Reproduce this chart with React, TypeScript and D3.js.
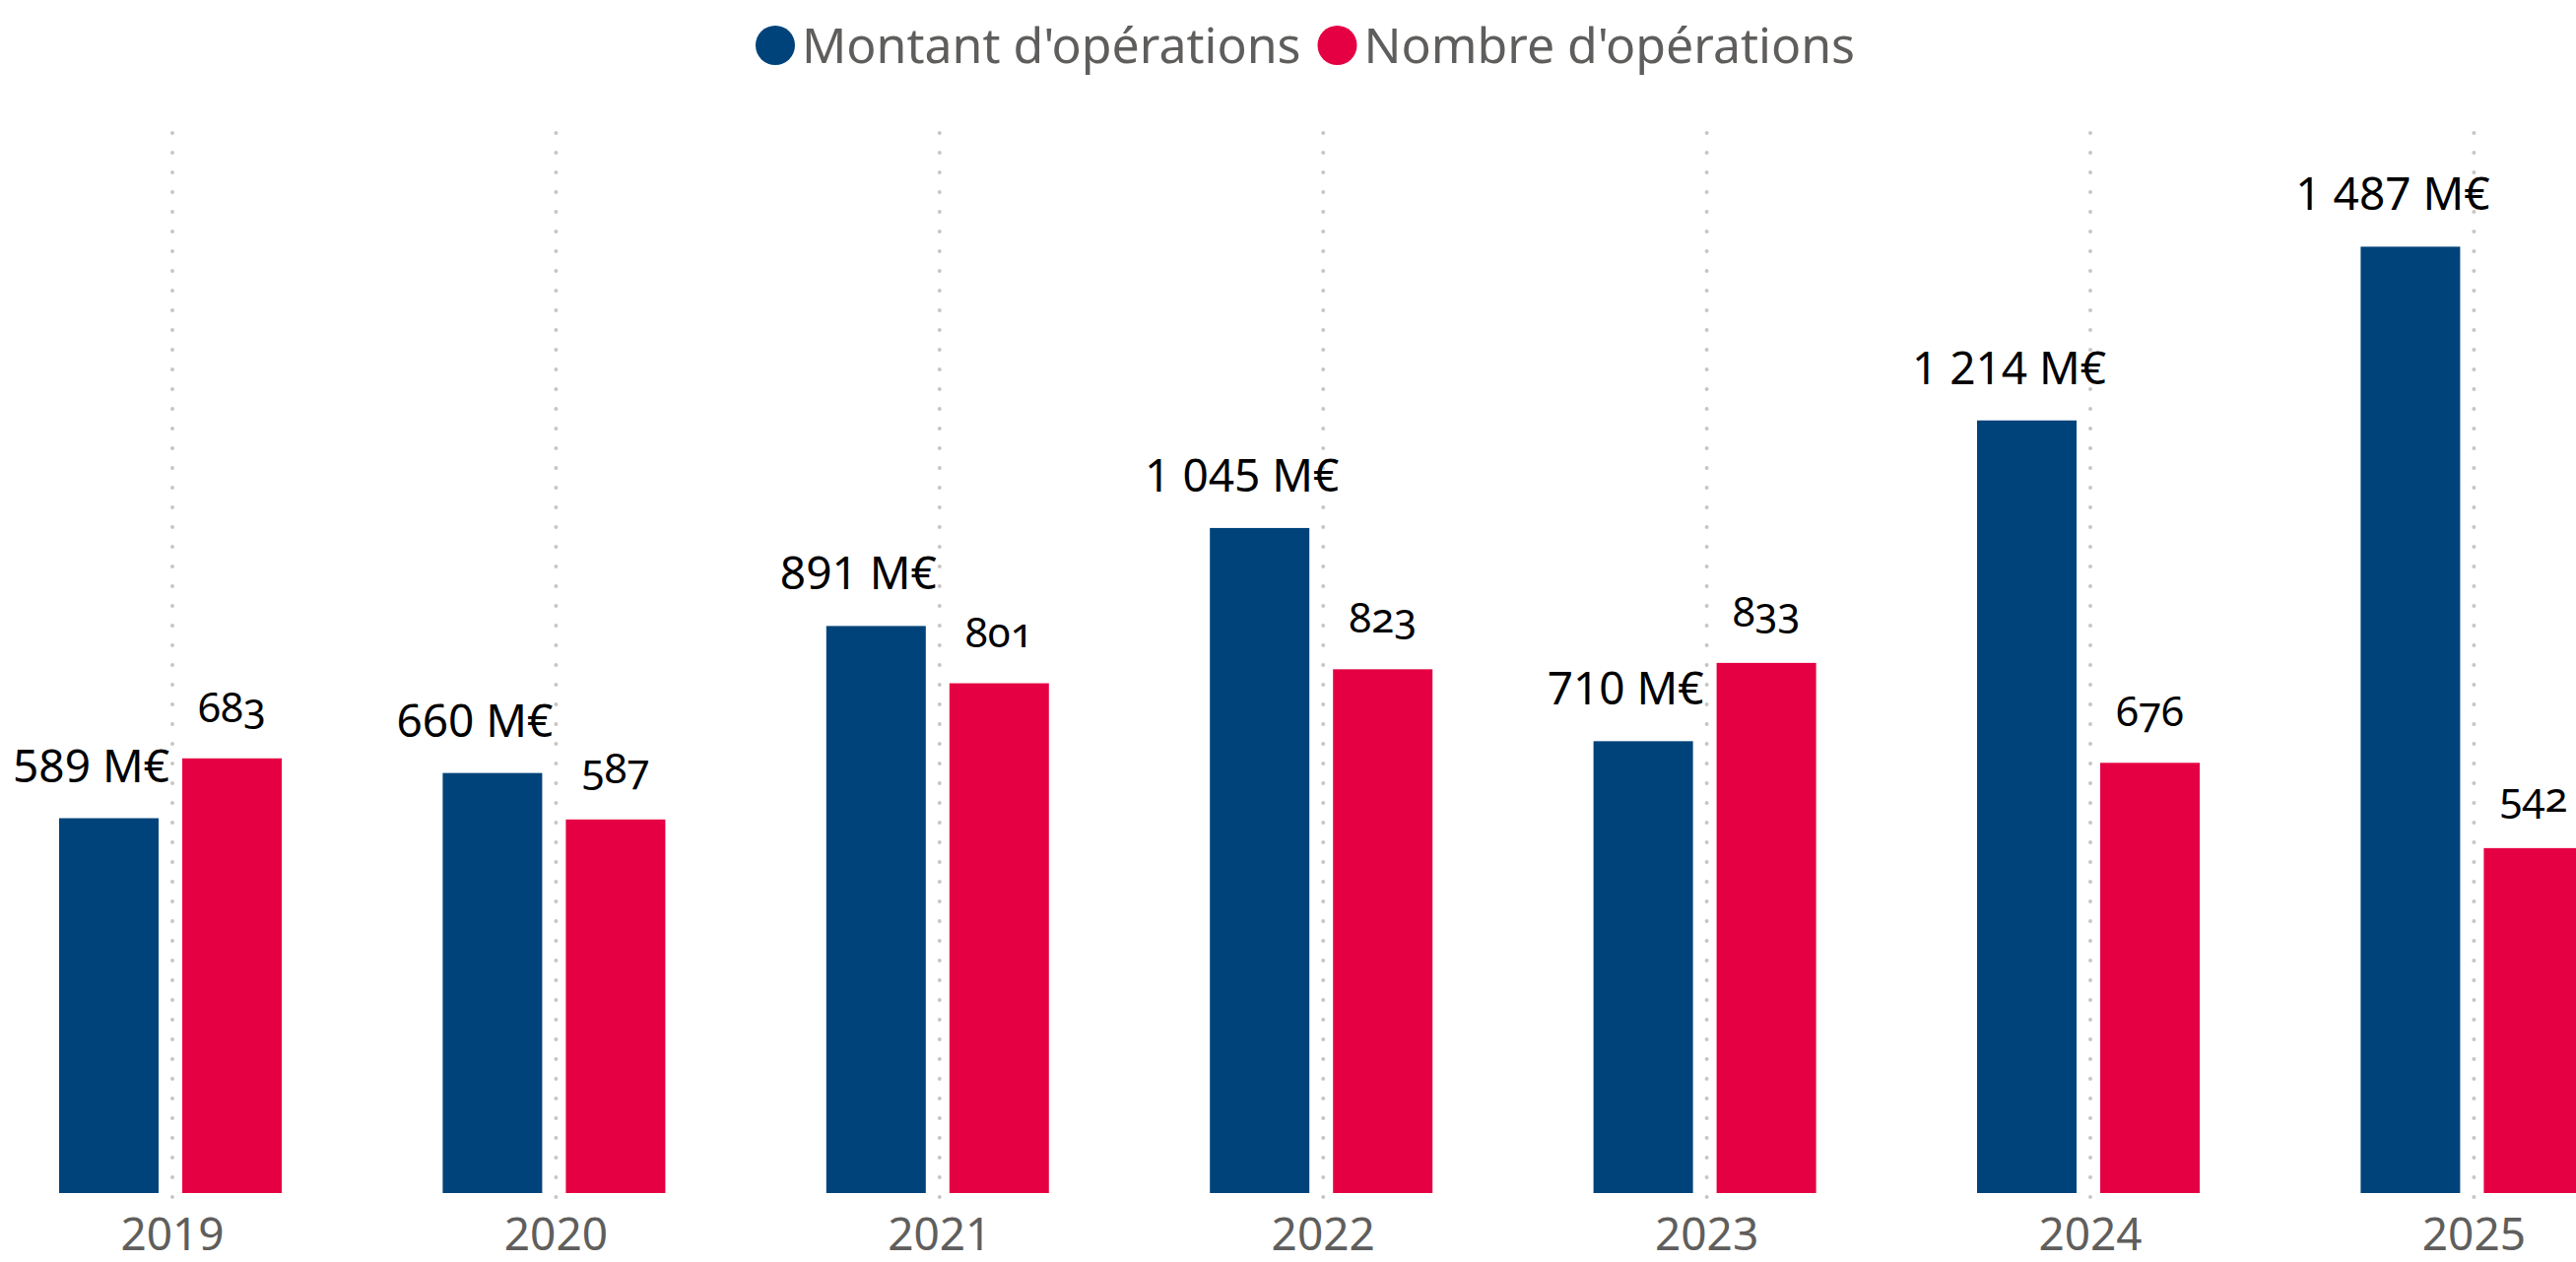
import React, { useRef, useEffect } from 'react'
import * as d3 from 'd3'

// values
const years = ['2019', '2020', '2021', '2022', '2023', '2024', '2025']
const montant = [589, 660, 891, 1045, 710, 1214, 1487] // M€
const nombre = [683, 587, 801, 823, 833, 676, 542]
const seriesKeys = ['montant', 'nombre']
const seriesNames = ["Montant d'opérations", "Nombre d'opérations"]
const seriesColors = ['#00437a', '#e50043']

const W = 2615
const H = 1281
const FONT = '"Noto Sans", "Open Sans", sans-serif'

const fr = d3.formatLocale({ decimal: ',', thousands: ' ', grouping: [3], currency: ['', ''] })
const fmt = fr.format(',d')

function BarChart() {
    const svgRef = useRef(null)

    useEffect(() => {
        const svg = d3.select(svgRef.current)
        svg.selectAll('*').remove()

        const rows = years.map((yr, i) => ({ year: yr, montant: montant[i], nombre: nombre[i] }))
        const base = 1211

        const x0 = d3.scaleBand()
            .domain(years)
            .range([-19.7, 2706.1]) // last group runs past the right edge
            .padding(0)

        const x1 = d3.scaleBand()
            .domain(seriesKeys)
            .range([-115, 111]) // relative to the group centre
            .paddingInner(0.192)

        const y = d3.scaleLinear()
            .domain([0, 1500])
            .range([base, base - 1500 * 0.646])

        const centre = d => x0(d) + x0.bandwidth() / 2

        // dotted vertical gridlines at each year
        svg.append('g')
            .selectAll('line')
            .data(years)
            .join('line')
            .attr('x1', centre)
            .attr('x2', centre)
            .attr('y1', 135)
            .attr('y2', 1217)
            .attr('stroke', '#c8c6c4')
            .attr('stroke-width', 4)
            .attr('stroke-linecap', 'round')
            .attr('stroke-dasharray', '0 20')

        const groups = svg.append('g')
            .selectAll('g')
            .data(rows)
            .join('g')
            .attr('transform', d => `translate(${centre(d.year)},0)`)

        groups.selectAll('rect')
            .data(d => seriesKeys.map((k, i) => ({ key: k, value: d[k], color: seriesColors[i] })))
            .join('rect')
            .attr('x', d => x1(d.key))
            .attr('width', x1.bandwidth())
            .attr('y', d => y(d.value))
            .attr('height', d => base - y(d.value))
            .attr('fill', d => d.color)

        // montant labels sit a bit left of the bar centre
        groups.append('text')
            .attr('x', x1('montant') + x1.bandwidth() / 2 - 18)
            .attr('y', d => y(d.montant) - 37)
            .attr('text-anchor', 'middle')
            .attr('font-family', FONT)
            .attr('font-size', 46)
            .attr('fill', '#000')
            .text(d => fmt(d.montant) + ' M€')

        groups.append('text')
            .attr('x', x1('nombre') + x1.bandwidth() / 2)
            .attr('y', d => y(d.nombre) - 37)
            .attr('text-anchor', 'middle')
            .attr('font-family', FONT)
            .attr('font-size', 42)
            .attr('fill', '#000')
            .style('font-variant-numeric', 'oldstyle-nums')
            .style('font-feature-settings', '"onum"')
            .text(d => fmt(d.nombre))

        // year axis
        const xAxis = d3.axisBottom(x0).tickSize(0).tickPadding(25)
        const ax = svg.append('g')
            .attr('transform', `translate(0,${base})`)
            .call(xAxis)
        ax.select('.domain').remove()
        ax.selectAll('text')
            .attr('font-family', FONT)
            .attr('font-size', 46)
            .attr('fill', '#605e5c')

        // legend
        const legend = svg.append('g')
        let lx = 767
        seriesNames.forEach((name, i) => {
            legend.append('circle')
                .attr('cx', lx + 20)
                .attr('cy', 46)
                .attr('r', 20)
                .attr('fill', seriesColors[i])
            const t = legend.append('text')
                .attr('x', lx + 47)
                .attr('y', 64)
                .attr('font-family', FONT)
                .attr('font-size', 50)
                .attr('fill', '#605e5c')
                .text(name)
            lx = lx + 47 + t.node().getComputedTextLength() + 17
        })
    }, [])

    return (
        <svg ref={svgRef} width={W} height={H} style={{ display: 'block', background: '#fff' }} />
    )
}

export default function App() {
    return (
        <div style={{ position: 'absolute', left: 0, top: 0, width: W, height: H, overflow: 'hidden' }}>
            <BarChart />
        </div>
    )
}
